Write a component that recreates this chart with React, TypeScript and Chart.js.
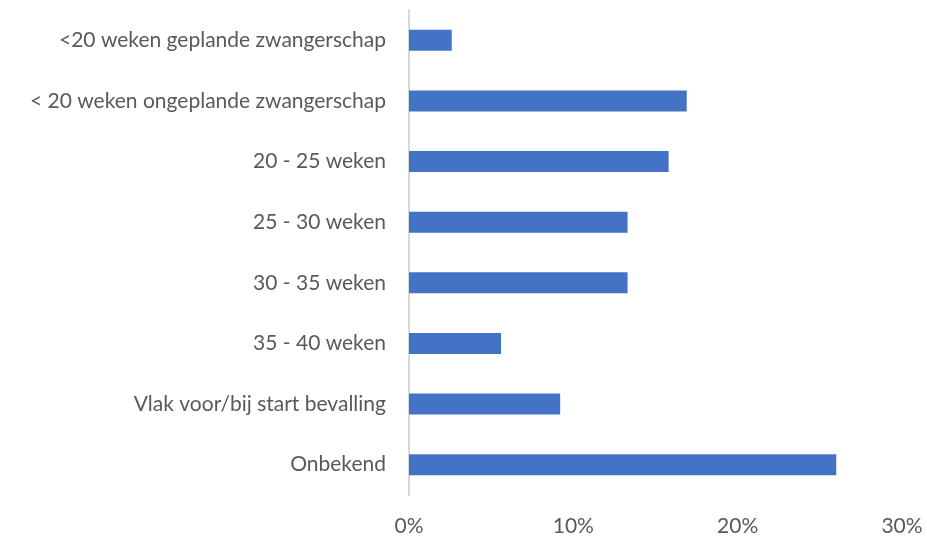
import React, { useEffect, useRef } from "react";
import { Chart, registerables } from "chart.js";

Chart.register(...registerables);

const categories = [
  "<20 weken geplande zwangerschap",
  "< 20 weken ongeplande zwangerschap",
  "20 - 25 weken",
  "25 - 30 weken",
  "30 - 35 weken",
  "35 - 40 weken",
  "Vlak voor/bij start bevalling",
  "Onbekend",
];
const values = [2.6, 16.9, 15.8, 13.3, 13.3, 5.6, 9.2, 26.0];
const xTicks = [0, 10, 20, 30];

export default function App() {
  const ref = useRef<HTMLCanvasElement | null>(null);
  useEffect(() => {
    if (!ref.current) return;
    const font = { family: "Lato, sans-serif", size: 21 };
    const zeroPad = (scale: any) => {
      scale.paddingTop = 0;
      scale.paddingBottom = 0;
      scale.paddingLeft = 0;
      scale.paddingRight = 0;
    };
    const chart = new Chart(ref.current, {
      type: "bar",
      data: {
        labels: categories,
        datasets: [
          {
            data: values,
            backgroundColor: "#4472C4",
            barPercentage: 0.69,
            categoryPercentage: 0.5,
          },
        ],
      },
      options: {
        indexAxis: "y",
        animation: false,
        responsive: false,
        layout: { padding: { top: 10, right: 25, left: 0, bottom: 0 } },
        plugins: { legend: { display: false }, tooltip: { enabled: false } },
        scales: {
          x: {
            min: 0,
            max: 30,
            afterBuildTicks: (scale: any) => {
              scale.ticks = xTicks.map((v) => ({ value: v }));
            },
            grid: { display: false, drawTicks: false },
            border: { display: false },
            ticks: {
              color: "#595959",
              font,
              padding: 19,
              maxRotation: 0,
              callback: (v: any) => v + "%",
            },
            afterFit: (scale: any) => {
              scale.height = 41;
              zeroPad(scale);
            },
          },
          y: {
            grid: { display: false, drawTicks: false },
            border: { display: true, color: "#d9d9d9", width: 2 },
            ticks: { color: "#595959", font, padding: 23 },
            afterFit: (scale: any) => {
              scale.width = 409;
              zeroPad(scale);
            },
          },
        },
      },
    });
    return () => chart.destroy();
  }, []);
  return (
    <div style={{ position: "fixed", left: 0, top: 0, width: 927, height: 536, background: "#fff" }}>
      <canvas ref={ref} width={927} height={536} style={{ display: "block" }} />
    </div>
  );
}
